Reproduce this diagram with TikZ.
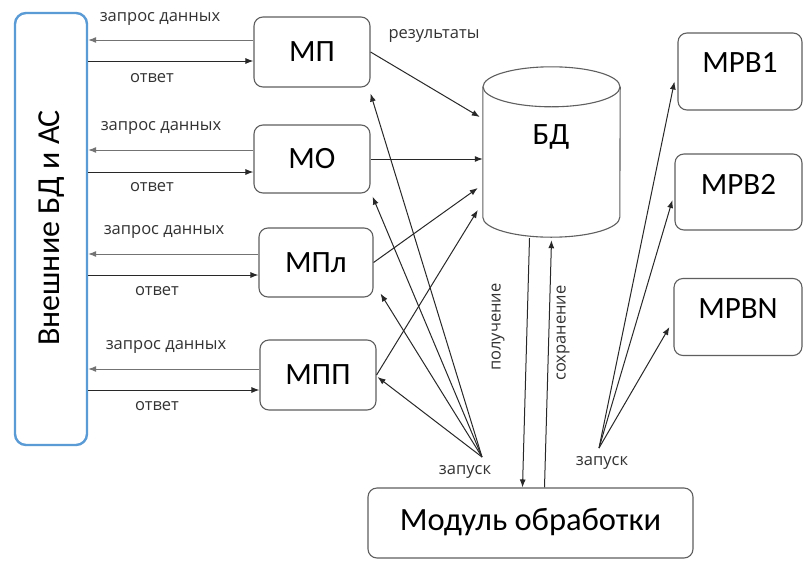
\documentclass[tikz,border=0pt]{standalone}
\usepackage{fontspec}
\setmainfont{Carlito}
\newfontfamily\smallfont{Open Sans}
\usetikzlibrary{arrows.meta,calc}
\definecolor{boxgray}{RGB}{95,95,95}
\definecolor{extblue}{RGB}{91,155,213}
\definecolor{linegray}{RGB}{40,40,40}
\tikzset{
  module/.style={draw=boxgray, line width=1.1pt, rounded corners=9pt, fill=white, inner sep=0pt, font=\fontsize{31}{33}\selectfont},
  arr/.style={draw=linegray, line width=1pt, -{Latex[length=8pt,width=6pt]}},
  reqarr/.style={arr, draw=black!55},
  lbl/.style={font=\smallfont\fontsize{16.5}{18}\selectfont, text=black!80, inner sep=0pt},
}
\begin{document}
\begin{tikzpicture}[x=1pt,y=-1pt]
\useasboundingbox[fill=white] (0,0) rectangle (803,560);
% external
\node[draw=extblue, line width=2.4pt, rounded corners=11pt, minimum width=72pt, minimum height=432pt, inner sep=0pt] (ext) at (51,229) {};
\node[rotate=90, font=\fontsize{32}{34}\selectfont] (extlabel) at (52,228) {Внешние БД и АС};
% modules
\node[module, minimum width=116pt, minimum height=70pt] (mp) at (312,52) {МП};
\node[module, minimum width=116pt, minimum height=68pt] (mo) at (312,159) {МО};
\node[module, minimum width=114pt, minimum height=69pt] (mpl) at (316,262.5) {МПл};
\node[module, minimum width=116pt, minimum height=70pt] (mpp) at (318,375) {МПП};
\node[module, minimum width=124pt, minimum height=77pt, text depth=18pt] (mpb1) at (740,71.5) {MPB1};
\node[module, minimum width=127pt, minimum height=76pt, text depth=16pt] (mpb2) at (738.5,192) {MPB2};
\node[module, minimum width=128pt, minimum height=77pt, text depth=16pt] (mpbn) at (738,317) {MPBN};
\node[module, minimum width=325pt, minimum height=70pt, font=\fontsize{32.5}{34}\selectfont, text depth=8pt] (mod) at (530.5,523) {Модуль обработки};
% database cylinder
\node[minimum width=137pt, minimum height=170pt, inner sep=0pt] (bd) at (551.5,152) {};
\draw[draw=boxgray, line width=1.1pt] ($(bd.north west)+(0,20)$) -- ($(bd.south west)+(0,-20)$)
  arc[start angle=180, end angle=0, x radius=68.5, y radius=20] -- ($(bd.north east)+(0,20)$);
\draw[draw=boxgray, line width=1.1pt] ($(bd.north)+(0,20)$) ellipse[x radius=68.5, y radius=20];
\node[font=\fontsize{31}{33}\selectfont] (bdlabel) at (551,137) {БД};
% request/answer arrows
\foreach \m/\q/\a/\qx/\qy/\ax/\ay in {mp/40/61/160/19/152/78, mo/150/172/161/128/152/187, mpl/254/275/164/232/157/291, mpp/369/390/166/347/157/406}{
  \draw[reqarr] (\m.west |- 0,\q) -- (ext.east |- 0,\q);
  \draw[arr] (ext.east |- 0,\a) -- (\m.west |- 0,\a);
  \node[lbl] at (\qx,\qy) {запрос данных};
  \node[lbl] at (\ax,\ay) {ответ};
}
% to database
\draw[arr] (mp.east) -- ($(bd.west)+(-3,-35)$);
\node[lbl] (res) at (434,36) {результаты};
\draw[arr] (mo.east) -- (bd.west |- mo.east);
\draw[arr] (mpl.east) -- ($(bd.west)+(-5,36)$);
\draw[arr] (mpp.east) -- ($(bd.west)+(-5,58)$);
% launch from left
\coordinate (z1) at (482,457);
\node[lbl] (zap1) at (465,472) {запуск};
\draw[arr] (z1) -- ($(mp.south east)+(0,6)$);
\draw[arr] (z1) -- ($(mo.south east)+(2,3)$);
\draw[arr] (z1) -- ($(mpl.south east)+(7,-4)$);
\draw[arr] (z1) -- ($(mpp.east)+(1,2)$);
% get / save
\draw[arr] ($(bd.south)+(-22,1)$) -- ($(mod.north)+(-8,0)$);
\draw[arr] ($(mod.north)+(14,0)$) -- ($(bd.south)+(0,3)$);
\node[lbl, rotate=90] (get) at (498,327) {получение};
\node[lbl, rotate=90] (save) at (563,333) {сохранение};
% launch right
\coordinate (z2) at (599,448);
\node[lbl] (zap2) at (602,463) {запуск};
\draw[arr] (z2) -- ($(mpb1.west)+(-3,10)$);
\draw[arr] (z2) -- ($(mpb2.west)+(-2,8)$);
\draw[arr] (z2) -- ($(mpbn.west)+(-4,10)$);
\end{tikzpicture}
\end{document}
